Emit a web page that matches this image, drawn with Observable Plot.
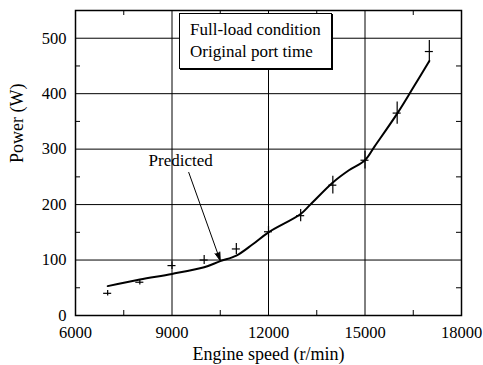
<!DOCTYPE html>
<html><head><meta charset="utf-8">
<script src="https://cdn.jsdelivr.net/npm/d3@7"></script>
<script src="https://cdn.jsdelivr.net/npm/@observablehq/plot@0.6"></script>
<style>
body{margin:0;background:#fff;}
#chart{position:relative;width:483px;height:365px;font-family:"Liberation Serif","Times New Roman","DejaVu Serif",serif;}
#chart svg, #chart svg text{font-family:"Liberation Serif","Times New Roman","DejaVu Serif",serif !important;}
#legend{position:absolute;left:179px;top:13px;width:141px;height:49px;border:1px solid #000;box-shadow:1px 1px 0 #000;background:#fff;padding:5px 0 0 10px;font-size:17px;line-height:22px;color:#000;white-space:nowrap;}
</style>
</head><body>
<div id="chart"><div id="legend">Full-load condition<br>Original port time</div></div>
<script>
// Measured points (engine speed r/min, power W, error ±W)
const speed = [7000, 8000, 9000, 10000, 11000, 12000, 13000, 14000, 15000, 16000, 17000];
const power = [40, 60, 90, 100, 120, 151, 180, 235, 280, 365, 476];
const powerErr = [5, 5, 7, 8, 10, 10, 11, 16, 16, 20, 20];
const speedErr = 125;
// Predicted curve
const predSpeed = [7000, 8000, 9000, 10000, 10500, 11000, 11500, 12000, 13000, 13300, 14000, 14500, 15000, 15300, 16000, 16500, 17000];
const predPower = [53, 65, 75, 87, 98, 108, 128, 150, 183, 200, 240, 262, 280, 305, 364, 411, 459];
// Axes
const xTicks = [6000, 9000, 12000, 15000, 18000];
const yTicks = [0, 100, 200, 300, 400, 500];
const xMinor = [7500, 10500, 13500, 16500];
const yMinor = [50, 150, 250, 350, 450];
// Annotation
const noteText = ["Predicted"];
const noteX = [8270];
const noteY = [280];
const arrowFrom = [9520, 258];
const arrowTo = [10500, 99];

const measured = speed.map((s, i) => ({s, p: power[i], e: powerErr[i]}));
const predicted = predSpeed.map((s, i) => ({s, p: predPower[i]}));

const plot = Plot.plot({
  width: 483, height: 365,
  marginTop: 10, marginBottom: 50, marginLeft: 75, marginRight: 22,
  style: {fontFamily: "'Liberation Serif', 'Times New Roman', serif", fontSize: "16px", color: "#000", background: "#fff"},
  x: {domain: [6000, 18000]},
  y: {domain: [0, 550]},
  marks: [
    Plot.ruleX(xTicks, {stroke: "#000", strokeWidth: 1}),
    Plot.ruleY(yTicks, {stroke: "#000", strokeWidth: 1}),
    Plot.tickX(xMinor, {x: d => d, insetTop: 300, stroke: "#000"}),
    Plot.tickX(xMinor, {x: d => d, insetBottom: 300, stroke: "#000"}),
    Plot.tickY(yMinor, {y: d => d, insetRight: 381, stroke: "#000"}),
    Plot.tickY(yMinor, {y: d => d, insetLeft: 381, stroke: "#000"}),
    Plot.frame({stroke: "#000", strokeWidth: 1.5}),
    Plot.axisX({ticks: xTicks, tickFormat: d3.format("d"), tickSize: 0, tickPadding: 11, label: null, fontSize: 16.5}),
    Plot.axisY({ticks: yTicks, tickFormat: d3.format("d"), tickSize: 0, tickPadding: 9, label: null, fontSize: 16.5}),
    Plot.text(["Engine speed (r/min)"], {frameAnchor: "bottom", lineAnchor: "middle", dy: 39, fontSize: 18}),
    Plot.text(["Power (W)"], {frameAnchor: "left", lineAnchor: "middle", dx: -58, rotate: -90, fontSize: 18}),
    Plot.ruleX(measured, {x: "s", y1: d => d.p - d.e, y2: d => d.p + d.e, stroke: "#000", strokeWidth: 1.2}),
    Plot.ruleY(measured, {y: "p", x1: d => d.s - speedErr, x2: d => d.s + speedErr, stroke: "#000", strokeWidth: 1.2}),
    Plot.line(predicted, {x: "s", y: "p", curve: "catmull-rom", stroke: "#000", strokeWidth: 2}),
    Plot.text(noteText, {x: noteX, y: noteY, textAnchor: "start", fontSize: 17}),
    Plot.arrow([0], {x1: arrowFrom[0], y1: arrowFrom[1], x2: arrowTo[0], y2: arrowTo[1], headLength: 13, headAngle: 34, stroke: "#000", fill: "#000", strokeWidth: 1})
  ]
});
document.getElementById("chart").prepend(plot);
</script>
</body></html>
